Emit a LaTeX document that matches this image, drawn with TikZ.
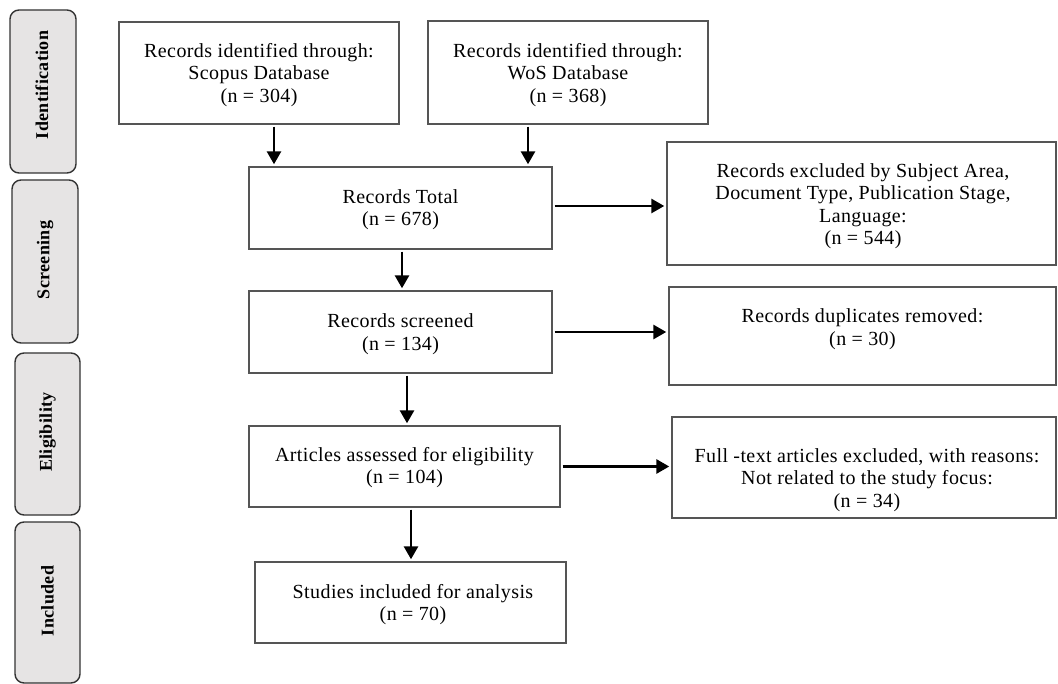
\documentclass[tikz,border=0pt]{standalone}
\usepackage{fontspec}
\setmainfont{Liberation Serif}[LetterSpace=2]
\usetikzlibrary{arrows.meta}
\definecolor{boxline}{HTML}{555555}
\definecolor{stagefill}{HTML}{E6E4E4}
\definecolor{stageline}{HTML}{333333}
\tikzset{
  box/.style={draw=boxline, line width=1.4pt, rectangle, inner sep=0pt, fill=white},
  txt/.style={align=center, inner sep=0pt, font=\fontsize{20}{22.5}\selectfont},
  stage/.style={draw=stageline, fill=stagefill, line width=1.4pt, rounded corners=9pt, inner sep=0pt},
  stagetxt/.style={rotate=90, inner sep=0pt, font=\fontsize{18}{20}\selectfont\bfseries},
  arr/.style={draw=black, line width=2.8pt, -{Triangle[length=13pt,width=14pt]}, shorten >=2pt, shorten <=2pt},
}
\begin{document}
\begin{tikzpicture}[x=1pt,y=-1pt]
\useasboundingbox (0,0) rectangle (1058,684);
\fill[white] (0,0) rectangle (1058,684);

% stage labels
\node[stage, minimum width=66pt, minimum height=163pt] (sIdent) at (43,91.5) {};
\node[stagetxt] (tIdent) at (42,85) {Identification};
\node[stage, minimum width=66pt, minimum height=163pt] (sScreen) at (45,261.5) {};
\node[stagetxt] (tScreen) at (45,260) {Screening};
\node[stage, minimum width=65pt, minimum height=162pt] (sElig) at (47.5,434) {};
\node[stagetxt] (tElig) at (47.5,432) {Eligibility};
\node[stage, minimum width=65pt, minimum height=161pt] (sIncl) at (47.5,602.5) {};
\node[stagetxt] (tIncl) at (47.5,601) {Included};

% boxes
\node[box, minimum width=280pt, minimum height=102pt] (scopus) at (259,73) {};
\node[txt] (tscopus) at (259,75) {Records identified through:\\Scopus Database\\(n = 304)};
\node[box, minimum width=280pt, minimum height=103pt] (wos) at (568,72.5) {};
\node[txt] (twos) at (568,75) {Records identified through:\\WoS Database\\(n = 368)};
\node[box, minimum width=303pt, minimum height=82pt] (total) at (400.5,208) {};
\node[txt] (ttotal) at (400.5,209.5) {Records Total\\(n = 678)};
\node[box, minimum width=389pt, minimum height=123pt] (excl) at (861.5,203.5) {};
\node[txt] (texcl) at (863,206) {Records excluded by Subject Area,\\Document Type, Publication Stage,\\Language:\\(n = 544)};
\node[box, minimum width=303pt, minimum height=82pt] (screened) at (400.5,332) {};
\node[txt] (tscreened) at (400.5,334) {Records screened\\(n = 134)};
\node[box, minimum width=387pt, minimum height=98pt] (dup) at (862.5,336) {};
\node[txt] (tdup) at (862.5,329) {Records duplicates removed:\\(n = 30)};
\node[box, minimum width=311pt, minimum height=81pt] (articles) at (404.5,466.5) {};
\node[txt] (tarticles) at (404.5,467.5) {Articles assessed for eligibility\\(n = 104)};
\node[box, minimum width=384pt, minimum height=101pt] (full) at (864,467.5) {};
\node[txt] (tfull) at (867,480) {Full -text articles excluded, with reasons:\\Not related to the study focus:\\(n = 34)};
\node[box, minimum width=311pt, minimum height=81pt] (studies) at (410.5,602.5) {};
\node[txt] (tstudies) at (413,604.5) {Studies included for analysis\\(n = 70)};

% arrows
\draw[arr] ([xshift=15pt]scopus.south) -- ([xshift=15pt]scopus.south |- total.north);
\draw[arr] ([xshift=-40pt]wos.south) -- ([xshift=-40pt]wos.south |- total.north);
\draw[arr] ([xshift=1.5pt]total.south) -- ([xshift=1.5pt]total.south |- screened.north);
\draw[arr] ([xshift=6.5pt]screened.south) -- ([xshift=6.5pt]screened.south |- articles.north);
\draw[arr] ([xshift=6.5pt]articles.south) -- ([xshift=6.5pt]articles.south |- studies.north);
\draw[arr] ([yshift=2pt]total.east) -- ([yshift=2pt]total.east -| excl.west);
\draw[arr] (screened.east) -- (screened.east -| dup.west);
\draw[arr] (articles.east) -- (articles.east -| full.west);
\end{tikzpicture}
\end{document}
